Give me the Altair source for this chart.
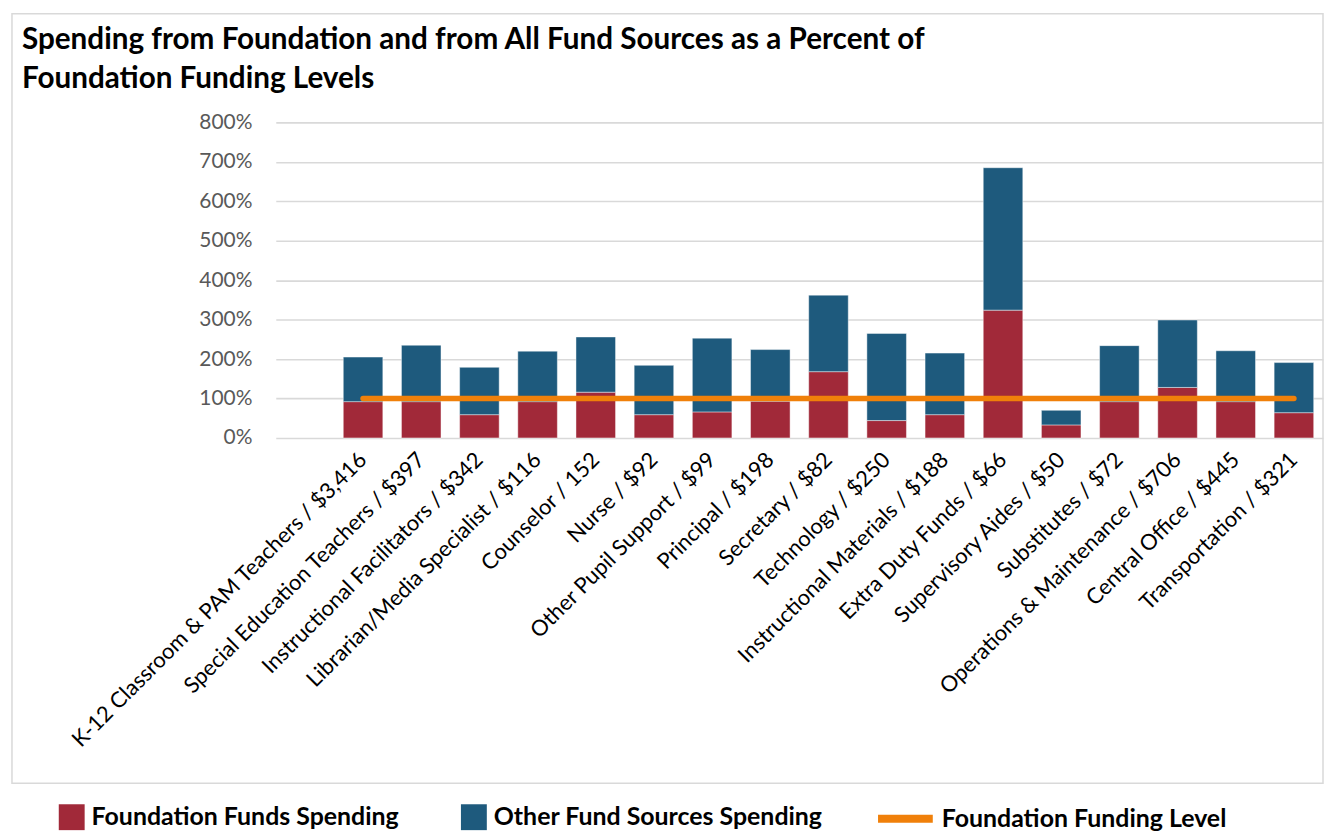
import altair as alt
import pandas as pd

categories = [
    "K-12 Classroom & PAM Teachers / $3,416",
    "Special Education Teachers / $397",
    "Instructional Facilitators / $342",
    "Librarian/Media Specialist / $116",
    "Counselor /  152",
    "Nurse / $92",
    "Other Pupil Support / $99",
    "Principal / $198",
    "Secretary / $82",
    "Technology / $250",
    "Instructional Materials / $188",
    "Extra Duty Funds / $66",
    "Supervisory Aides / $50",
    "Substitutes / $72",
    "Operations & Maintenance / $706",
    "Central Office / $445",
    "Transportation / $321",
]
# spending as a fraction of foundation funding level (1.0 = 100%)
foundation = [0.92, 0.92, 0.59, 0.92, 1.16, 0.59, 0.66, 0.93, 1.68, 0.44, 0.59, 3.24, 0.33, 0.92, 1.28, 0.92, 0.64]
total = [2.05, 2.35, 1.79, 2.20, 2.56, 1.84, 2.53, 2.24, 3.62, 2.65, 2.15, 6.85, 0.70, 2.34, 2.99, 2.21, 1.91]
level = [1.0, 1.0, 1.0, 1.0, 1.0, 1.0, 1.0, 1.0, 1.0, 1.0, 1.0, 1.0, 1.0, 1.0, 1.0, 1.0, 1.0]
y_ticks = [0, 1, 2, 3, 4, 5, 6, 7, 8]

S_F = "Foundation Funds Spending"
S_O = "Other Fund Sources Spending"
S_L = "Foundation Funding Level"

RED = "#A12939"
BLUE = "#1E5A7D"
ORANGE = "#F0800A"
FONT = "Lato"

rows = []
for c, f, t in zip(categories, foundation, total):
    rows.append({"cat": c, "series": S_F, "value": f, "ord": 0})
    rows.append({"cat": c, "series": S_O, "value": round(t - f, 4), "ord": 1})
bars_df = pd.DataFrame(rows)
line_df = pd.DataFrame({"cat": categories, "level": level, "name": S_L})

W = 1052
H = 317

# an empty leading slot on the category axis, as in the original chart
x_domain = [""] + categories
x_scale = alt.Scale(domain=x_domain, paddingInner=0.32, paddingOuter=0.16)
x_axis = alt.Axis(
    title=None, labelAngle=-45, labelAlign="right", labelBaseline="middle",
    labelPadding=18, domain=False, ticks=False, grid=False, labelOverlap=False,
    labelFont=FONT, labelFontSize=22, labelColor="#000000", labelLimit=600,
)
y_scale = alt.Scale(domain=[0, 8], nice=False)
y_axis = alt.Axis(
    title=None, values=y_ticks, format=".0%", grid=True, gridColor="#D9D9D9",
    gridWidth=1.6, domain=False, ticks=False, labelPadding=24,
    labelFont=FONT, labelFontSize=21, labelColor="#595959",
)

bars = alt.Chart(bars_df).mark_bar(stroke="#FFFFFF", strokeWidth=1, strokeOpacity=0.45).encode(
    x=alt.X("cat:N", scale=x_scale, axis=x_axis, sort=x_domain),
    y=alt.Y("value:Q", stack="zero", scale=y_scale, axis=y_axis),
    color=alt.Color(
        "series:N",
        scale=alt.Scale(domain=[S_F, S_O], range=[RED, BLUE]),
        legend=alt.Legend(
            title=None, orient="none", legendX=-218, legendY=685, direction="horizontal",
            symbolType="square", symbolSize=676, symbolStrokeWidth=0, padding=0,
            labelFont=FONT, labelFontSize=25, labelFontWeight="bold", labelColor="#000000",
            labelOffset=7, columnPadding=62, labelLimit=500,
        ),
    ),
    order=alt.Order("ord:Q"),
)

line = alt.Chart(line_df).mark_line(strokeWidth=5.5, strokeCap="round").encode(
    x=alt.X("cat:N", scale=x_scale, axis=x_axis, sort=x_domain),
    y=alt.Y("level:Q", scale=y_scale, axis=y_axis),
    stroke=alt.Stroke(
        "name:N",
        scale=alt.Scale(domain=[S_L], range=[ORANGE]),
        legend=alt.Legend(
            title=None, orient="none", legendX=601, legendY=668, direction="horizontal",
            symbolType="stroke", symbolSize=3025, symbolStrokeWidth=8, padding=0,
            labelFont=FONT, labelFontSize=25, labelFontWeight="bold", labelColor="#000000",
            labelOffset=5, labelLimit=500,
        ),
    ),
)

frame = alt.Chart(pd.DataFrame({"a": [0]})).mark_rect(
    fill="transparent", stroke="#D9D9D9", strokeWidth=1.5
).encode(
    x=alt.value(-265), x2=alt.value(1052), y=alt.value(-109), y2=alt.value(664)
)

chart = alt.layer(frame, bars, line).properties(
    width=W,
    height=H,
    padding={"left": 3, "top": 3, "right": 0, "bottom": 0},
    title=alt.TitleParams(
        text=["Spending from Foundation and from All Fund Sources as a Percent of",
              "Foundation Funding Levels"],
        anchor="start", frame="group", dx=-255, offset=-81,
        font=FONT, fontSize=29.8, fontWeight="bold", color="#000000", lineHeight=39,
    ),
).configure_view(stroke=None)

chart.save("out.html", embed_options={"renderer": "svg", "actions": False})
